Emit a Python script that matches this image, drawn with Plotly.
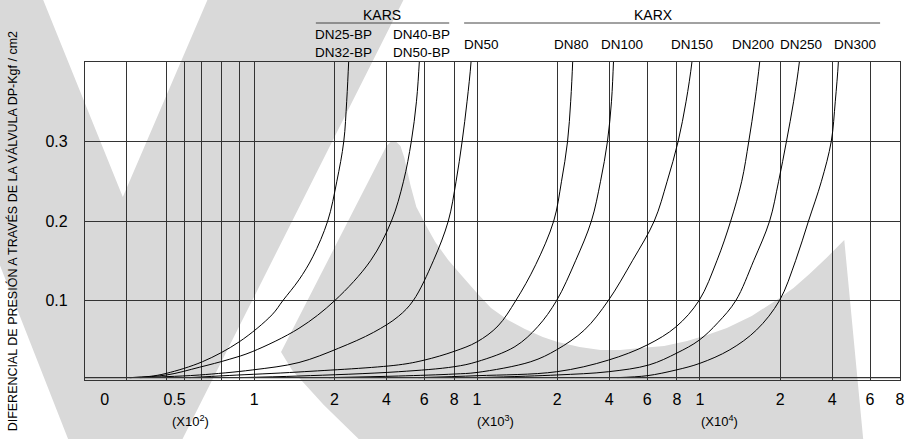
import plotly.graph_objects as go

# ---------------- data (x in drawn log-decade units of flow, y in kgf/cm2) ----------------
GRID_U = [1.429, 1.607, 1.688, 1.763, 1.853, 1.933,
          2.0, 2.36, 2.593, 2.763, 2.897,
          3.0, 3.36, 3.593, 3.763, 3.897,
          4.0, 4.36, 4.593, 4.763]
TICK_U = [1.330, 1.643, 2.0, 2.36, 2.593, 2.763, 2.897,
          3.0, 3.36, 3.593, 3.763, 3.897,
          4.0, 4.36, 4.593, 4.763, 4.897]
TICK_TEXT = ["0", "0.5", "1", "2", "4", "6", "8",
             "1", "2", "4", "6", "8",
             "1", "2", "4", "6", "8"]
Y_TICKS = [0.1, 0.2, 0.3]
BASE_DP = 0.003

CURVE_NAMES = ["DN25/32-BP", "DN40/50-BP", "DN50", "DN80", "DN100",
               "DN150", "DN200", "DN250", "DN300"]

A_U = [1.442, 1.531, 1.607, 1.768, 1.933, 2.080, 2.129, 2.201, 2.263, 2.330, 2.371, 2.402, 2.415, 2.424, 2.429]
A_V = [0.003, 0.0045, 0.0084, 0.023, 0.048, 0.082, 0.100, 0.126, 0.155, 0.200, 0.250, 0.300, 0.350, 0.400, 0.43]

B_U = [1.442, 1.607, 1.754, 1.888, 1.991, 2.201, 2.362, 2.522, 2.616, 2.670, 2.705, 2.728, 2.741, 2.746]
B_V = [0.003, 0.0063, 0.016, 0.026, 0.0356, 0.065, 0.100, 0.150, 0.200, 0.250, 0.300, 0.350, 0.400, 0.43]

C_U = [1.487, 1.607, 1.754, 1.991, 2.201, 2.379, 2.536, 2.647, 2.714, 2.804, 2.871, 2.906, 2.933, 2.955, 2.973, 2.978]
C_V = [0.003, 0.0042, 0.0063, 0.0126, 0.022, 0.040, 0.060, 0.080, 0.100, 0.150, 0.200, 0.250, 0.300, 0.350, 0.400, 0.43]

D_U = [1.710, 1.888, 2.201, 2.647, 2.763, 2.897, 3.0, 3.094, 3.174, 3.263, 3.344, 3.379, 3.406, 3.420, 3.429, 3.433]
D_V = [0.003, 0.0057, 0.0101, 0.019, 0.025, 0.036, 0.048, 0.068, 0.100, 0.145, 0.200, 0.250, 0.300, 0.350, 0.400, 0.43]

E_U = [1.933, 2.201, 2.647, 2.897, 3.0, 3.170, 3.272, 3.357, 3.442, 3.513, 3.554, 3.585, 3.603, 3.612, 3.616]
E_V = [0.003, 0.005, 0.0104, 0.0167, 0.023, 0.042, 0.067, 0.100, 0.150, 0.200, 0.250, 0.300, 0.350, 0.400, 0.43]

F_U = [2.335, 2.647, 2.897, 3.0, 3.241, 3.357, 3.482, 3.589, 3.697, 3.795, 3.853, 3.902, 3.9375, 3.964, 3.973]
F_V = [0.003, 0.005, 0.0075, 0.0095, 0.023, 0.038, 0.063, 0.100, 0.150, 0.200, 0.250, 0.300, 0.350, 0.400, 0.43]

G_U = [2.737, 3.0, 3.357, 3.589, 3.763, 3.893, 3.996, 4.076, 4.138, 4.1875, 4.219, 4.246, 4.268, 4.277]
G_V = [0.003, 0.0054, 0.0104, 0.025, 0.044, 0.067, 0.100, 0.150, 0.200, 0.250, 0.300, 0.350, 0.400, 0.43]

H_U = [3.004, 3.357, 3.589, 3.772, 3.897, 3.996, 4.080, 4.161, 4.241, 4.3125, 4.353, 4.388, 4.420, 4.446, 4.455]
H_V = [0.003, 0.0063, 0.0104, 0.019, 0.034, 0.050, 0.072, 0.100, 0.150, 0.200, 0.250, 0.300, 0.350, 0.400, 0.43]

I_U = [3.629, 3.763, 3.893, 4.0, 4.134, 4.254, 4.357, 4.429, 4.487, 4.545, 4.589, 4.607, 4.621, 4.625]
I_V = [0.003, 0.0054, 0.0126, 0.021, 0.038, 0.063, 0.100, 0.150, 0.200, 0.250, 0.300, 0.350, 0.400, 0.43]

CURVES = [(A_U, A_V), (B_U, B_V), (C_U, C_V), (D_U, D_V), (E_U, E_V),
          (F_U, F_V), (G_U, G_V), (H_U, H_V), (I_U, I_V)]

# ---------------- layout geometry ----------------
W, H = 909, 439
ML, MR, MT, MB = 85, 5, 62, 59
PW, PH = W - ML - MR, H - MT - MB
FONT = "Liberation Sans, Arial, sans-serif"
GRID = "#333333"
WM = "#d9d9d9"


def ppx(x):
    return (x - ML) / PW


def ppy(y):
    return (H - MB - y) / PH


def path(points):
    s = "M " + " L ".join(f"{ppx(x):.5f},{ppy(y):.5f}" for x, y in points)
    return s + " Z"


fig = go.Figure()
for (u, v), name in zip(CURVES, CURVE_NAMES):
    fig.add_trace(go.Scatter(x=u, y=v, mode="lines", name=name,
                             line=dict(color="black", width=1, shape="spline", smoothing=1.0),
                             hoverinfo="skip", showlegend=False))

shapes = []
# watermark V
shapes.append(dict(type="path", xref="paper", yref="paper", layer="below",
                   path=path([(-105, 0), (43, 0), (123, 197), (208, 0), (405, 0), (183, 439), (68, 439)]),
                   fillcolor=WM, line=dict(width=0)))
# watermark swoosh
swoosh = [(282, 352), (388, 146), (392, 142), (397, 141), (402, 146), (406, 158), (412, 185),
          (418, 207), (428, 226), (437, 242), (450, 260), (463, 275), (478, 292), (493, 308),
          (510, 320), (527, 329), (545, 337), (560, 342), (582, 347), (603, 350), (623, 350),
          (643, 348), (667, 346), (690, 341), (710, 335), (730, 328), (755, 316), (780, 300),
          (797, 288), (813, 274), (830, 258), (848, 240), (867, 439), (360, 439), (325, 405), (293, 370)]
shapes.append(dict(type="path", xref="paper", yref="paper", layer="below",
                   path=path(swoosh), fillcolor=WM, line=dict(width=0)))
# second baseline
shapes.append(dict(type="line", xref="paper", yref="y", x0=0, x1=1, y0=BASE_DP, y1=BASE_DP,
                   line=dict(color=GRID, width=1.2)))
# header rules
shapes.append(dict(type="line", xref="paper", yref="paper", x0=ppx(317), x1=ppx(451),
                   y0=ppy(23), y1=ppy(23), line=dict(color="#444444", width=1)))
shapes.append(dict(type="line", xref="paper", yref="paper", x0=ppx(466), x1=ppx(884),
                   y0=ppy(23), y1=ppy(23), line=dict(color="#444444", width=1)))

ann = []


def label(text, x, y, size=13.5, **kw):
    ann.append(dict(text=text, x=ppx(x), y=ppy(y), xref="paper", yref="paper",
                    showarrow=False, font=dict(family=FONT, size=size, color="black"),
                    xanchor="center", yanchor="middle", **kw))


label("KARS", 383, 15, 14)
label("KARX", 656, 15, 14)
label("DN25-BP", 345, 35)
label("DN32-BP", 345, 52)
label("DN40-BP", 423, 35)
label("DN50-BP", 423, 53)
for t, x in [("DN50", 483), ("DN80", 574), ("DN100", 625), ("DN150", 695),
             ("DN200", 756), ("DN250", 805), ("DN300", 859)]:
    label(t, x, 45)
label("(X10<sup>2</sup>)", 191, 421, 13)
label("(X10<sup>3</sup>)", 498, 421, 13)
label("(X10<sup>4</sup>)", 723, 421, 13)
label("DIFERENCIAL DE PRESIÓN A TRAVÉS DE LA VÁLVULA DP-Kgf / cm2", 12, 231, 12.5, textangle=-90)

fig.update_layout(
    width=W, height=H,
    margin=dict(l=ML, r=MR, t=MT, b=MB, pad=0),
    paper_bgcolor="white", plot_bgcolor="rgba(0,0,0,0)",
    shapes=shapes, annotations=ann,
    xaxis=dict(range=[1.2411, 4.8975], tickmode="array", tickvals=TICK_U, ticktext=TICK_TEXT,
               showgrid=False, zeroline=False, showline=True, mirror=True,
               linecolor=GRID, linewidth=1.3, ticks="", ticklabelstandoff=5,
               tickfont=dict(family=FONT, size=16, color="black"),
               minor=dict(tickmode="array", tickvals=GRID_U, showgrid=True,
                          gridcolor=GRID, gridwidth=1.2, ticks="")),
    yaxis=dict(range=[0, 0.4], tickmode="array", tickvals=Y_TICKS,
               showgrid=True, gridcolor=GRID, gridwidth=1.2, zeroline=False,
               showline=True, mirror=True, linecolor=GRID, linewidth=1.3,
               ticks="", ticklabelstandoff=13,
               tickfont=dict(family=FONT, size=16, color="black")),
)

fig.write_html("out.html")
